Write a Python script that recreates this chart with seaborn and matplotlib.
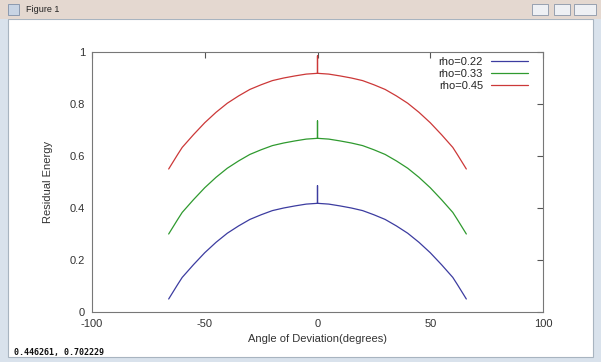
import pandas as pd
import matplotlib
matplotlib.use('Agg')
import matplotlib.pyplot as plt
import seaborn as sns
from matplotlib.patches import Rectangle

# angle of deviation (degrees); the repeated 0 makes the spike at the peak
angles = [-66, -62, -60, -55, -50, -45, -40, -35, -30, -25, -20, -15, -10, -5,
          0, 0, 0,
          5, 10, 15, 20, 25, 30, 35, 40, 45, 50, 55, 60, 62, 66]

rho_022 = [0.050, 0.106, 0.133, 0.182, 0.228, 0.268, 0.303, 0.331, 0.356, 0.374, 0.390, 0.400, 0.408, 0.415,
           0.418, 0.486, 0.418,
           0.415, 0.408, 0.400, 0.390, 0.374, 0.356, 0.331, 0.303, 0.268, 0.228, 0.182, 0.133, 0.106, 0.050]
rho_033 = [0.300, 0.356, 0.383, 0.432, 0.478, 0.518, 0.553, 0.581, 0.606, 0.624, 0.640, 0.650, 0.658, 0.665,
           0.668, 0.735, 0.668,
           0.665, 0.658, 0.650, 0.640, 0.624, 0.606, 0.581, 0.553, 0.518, 0.478, 0.432, 0.383, 0.356, 0.300]
rho_045 = [0.550, 0.606, 0.633, 0.682, 0.728, 0.768, 0.803, 0.831, 0.856, 0.874, 0.890, 0.900, 0.908, 0.915,
           0.918, 0.985, 0.918,
           0.915, 0.908, 0.900, 0.890, 0.874, 0.856, 0.831, 0.803, 0.768, 0.728, 0.682, 0.633, 0.606, 0.550]

series_names = ['rho=0.22', 'rho=0.33', 'rho=0.45']
series_colors = ['#3c3ca0', '#2f9a2f', '#cc3838']

frames = []
for name, vals in zip(series_names, [rho_022, rho_033, rho_045]):
    frames.append(pd.DataFrame({'angle': angles, 'energy': vals, 'series': name}))
df = pd.concat(frames, ignore_index=True)

sns.set_style('white')
plt.rcParams['font.family'] = ['Liberation Sans', 'DejaVu Sans']
plt.rcParams['axes.unicode_minus'] = False

fig = plt.figure(figsize=(6.01, 3.62), dpi=100)
fig.patch.set_facecolor('white')

# window frame: border, title bar, buttons
W, H = 601, 362
fig.patches.append(Rectangle((0, 0), 1, 1, transform=fig.transFigure,
                             facecolor='#d9e2ec', edgecolor='none', zorder=-5))
fig.patches.append(Rectangle((8 / W, 5 / H), (W - 16) / W, (H - 24) / H, transform=fig.transFigure,
                             facecolor='white', edgecolor='#a8b4c0', lw=0.8, zorder=-4))
fig.patches.append(Rectangle((0, 1 - 19 / H), 1, 19 / H, transform=fig.transFigure,
                             facecolor='#e4d8d0', edgecolor='none', zorder=-3))
fig.text(26 / W, 1 - 10 / H, 'Figure 1', fontsize=6.5, va='center', ha='left', color='#222222')
fig.patches.append(Rectangle((8 / W, 1 - 15 / H), 11 / W, 11 / H, transform=fig.transFigure,
                             facecolor='#c8d4e4', edgecolor='#8090a8', lw=0.6, zorder=-2))
for x0, bw in [(532, 16), (554, 16), (574, 22)]:
    fig.patches.append(Rectangle((x0 / W, 1 - 15 / H), bw / W, 11 / H, transform=fig.transFigure,
                                 facecolor='#eef0f4', edgecolor='#8a96a8', lw=0.6, zorder=-2))

ax = fig.add_axes([92 / W, 1 - 312 / H, (543 - 92) / W, (312 - 52) / H])

# draw each series in data order so the spike at 0 is kept
for name, color in zip(series_names, series_colors):
    sub = df[df['series'] == name]
    sns.lineplot(x=sub['angle'].values, y=sub['energy'].values, sort=False, estimator=None,
                 color=color, linewidth=0.9, ax=ax, label=name)

ax.set_xlim(-100, 100)
ax.set_ylim(0, 1)
ax.set_xticks([-100, -50, 0, 50, 100])
ax.set_yticks([0, 0.2, 0.4, 0.6, 0.8, 1])
ax.set_yticklabels(['0', '0.2', '0.4', '0.6', '0.8', '1'])
ax.tick_params(direction='in', length=4, width=0.8, color='#555555', labelsize=8,
               labelcolor='#333333', top=True, right=True, pad=5)
for s in ax.spines.values():
    s.set_visible(True)
    s.set_color('#777777')
    s.set_linewidth(0.8)

ax.set_xlabel('Angle of Deviation(degrees)', fontsize=8, color='#333333', labelpad=4)
ax.set_ylabel('Residual Energy', fontsize=8, color='#333333', labelpad=12)

ax.legend(loc='upper right', frameon=False, markerfirst=False, fontsize=8,
          handlelength=3.4, handletextpad=0.7, labelspacing=0.15,
          bbox_to_anchor=(0.985, 1.01), borderaxespad=0.3)

fig.text(14 / W, 1 - 352 / H, '0.446261, 0.702229', fontsize=6, family='DejaVu Sans Mono',
         fontweight='bold', va='center', ha='left', color='#111111')

fig.savefig('out.png', dpi=100)
